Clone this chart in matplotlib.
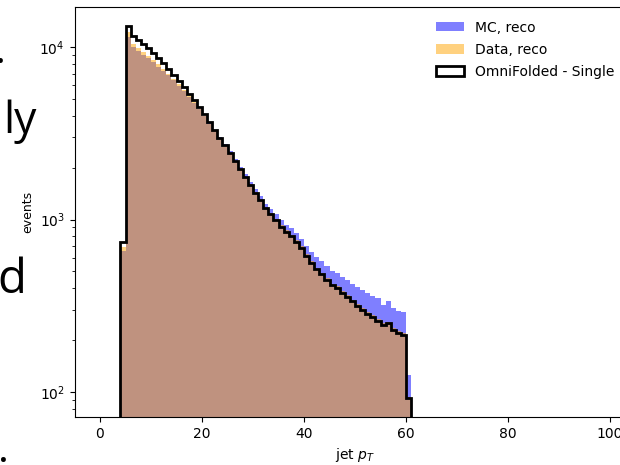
import numpy as np
import matplotlib
matplotlib.use("Agg")
import matplotlib.pyplot as plt

# bin edges of jet pT (width 1)
pt_edges = list(range(4, 62))

mc_reco = [660, 11400, 10000, 9480, 9000, 8650, 8150, 7700, 7300, 6860,
           6400, 5980, 5560, 5150, 4760, 4400, 4000, 3640, 3300, 3000,
           2730, 2480, 2250, 2020, 1830, 1655, 1500, 1360, 1235, 1150,
           1070, 990, 935, 890, 835, 775, 705, 650, 605, 572,
           535, 505, 492, 467, 445, 425, 405, 388, 375, 362,
           350, 320, 335, 305, 295, 290, 126]

data_reco = [690, 12250, 10450, 9860, 9320, 8900, 8400, 7920, 7480, 7000,
             6540, 6080, 5620, 5180, 4770, 4390, 3980, 3600, 3250, 2940,
             2660, 2410, 2180, 1960, 1770, 1600, 1445, 1305, 1175, 1085,
             1005, 925, 865, 810, 760, 700, 630, 575, 525, 492,
             456, 425, 410, 384, 364, 343, 322, 307, 292, 279,
             265, 250, 256, 235, 226, 219, 93]

omnifolded = [745, 13300, 11600, 10960, 10350, 9890, 9230, 8610, 8040, 7450,
              6890, 6370, 5860, 5370, 4920, 4510, 4070, 3670, 3300, 2980,
              2690, 2430, 2190, 1960, 1760, 1585, 1430, 1290, 1160, 1070,
              990, 910, 850, 800, 745, 685, 615, 560, 515, 480,
              445, 415, 400, 375, 355, 335, 315, 300, 285, 272,
              258, 243, 251, 229, 221, 214, 92]

xticks = [0, 20, 40, 60, 80, 100]

W, H = 620, 465
fig = plt.figure(figsize=(W / 100, H / 100), dpi=100)
ax = fig.add_axes([74.5 / W, 48 / H, 561 / W, 410 / H])

edges = np.array(pt_edges)
left = edges[:-1]
ax.hist(left, bins=edges, weights=mc_reco, color="blue", alpha=0.5,
        label="MC, reco", log=True)
ax.hist(left, bins=edges, weights=data_reco, color="orange", alpha=0.5,
        label="Data, reco", log=True)
ax.hist(left, bins=edges, weights=omnifolded, histtype="step", color="black",
        lw=2, label="OmniFolded - Single", log=True)

ax.set_yscale("log")
ax.set_xlim(-5, 105)
ax.set_ylim(10 ** 1.855, 10 ** 4.232)
ax.set_xticks(xticks)
ax.set_xlabel("jet $p_T$")
ax.set_ylabel("events", fontsize=9)
ax.legend(loc="upper right", frameon=False, labelspacing=0.6,
          bbox_to_anchor=(1 - 9 / 561, 1 - 1 / 410))

# fragments of slide text visible at the left edge
fig.text(-4.5 / W, 1 - 63 / H, ".", fontsize=30, family="Open Sans",
         va="baseline")
fig.text(3 / W, 1 - 133 / H, "ly", fontsize=32, family="Open Sans",
         va="baseline")
fig.text(-3 / W, 1 - 293 / H, "d", fontsize=34, family="Open Sans",
         va="baseline")
fig.text(-2 / W, 1 - 462 / H, ".", fontsize=30, family="Open Sans",
         va="baseline")

fig.savefig("out.png", dpi=100)
